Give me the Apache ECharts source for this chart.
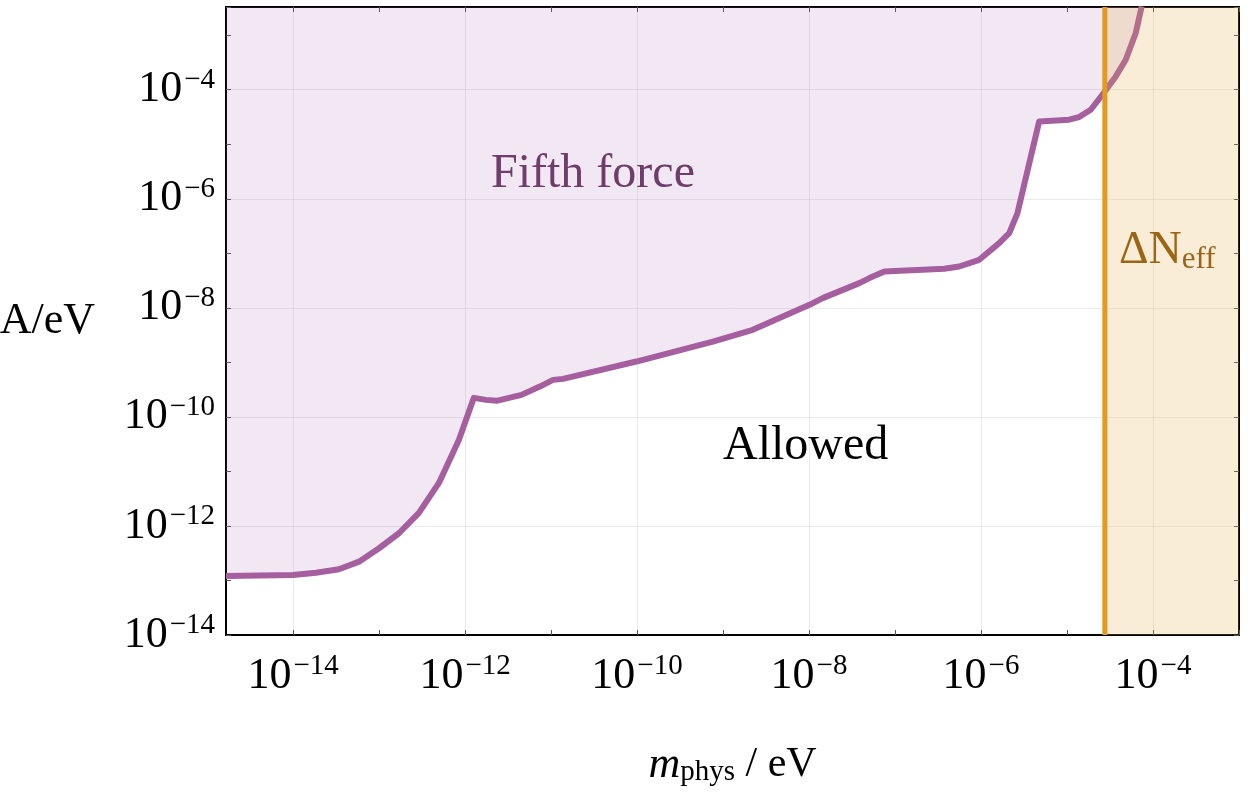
<!DOCTYPE html>
<html>
<head>
<meta charset="utf-8">
<script src="https://cdn.jsdelivr.net/npm/echarts@6/dist/echarts.min.js"></script>
<style>
  html, body { margin: 0; padding: 0; background: #fff; }
  #chart { width: 1250px; height: 794px; }
</style>
</head>
<body>
<div id="chart"></div>
<script>
// exponents: log10(m_phys / eV) and log10(A / eV) along the fifth-force bound
const massExp = [-14.78, -14.0, -13.733, -13.466, -13.233, -13.0, -12.769, -12.537, -12.304, -12.072,
  -11.898, -11.758, -11.634, -11.344, -11.131, -10.977, -10.861, -10.008, -9.118, -8.654,
  -7.995, -7.841, -7.415, -7.298, -7.124, -6.427, -6.253, -6.021, -5.789, -5.672,
  -5.576, -5.324, -4.976, -4.859, -4.724, -4.589, -4.433, -4.317, -4.201, -4.131];
const fifthForceExp = [-12.917, -12.899, -12.857, -12.795, -12.655, -12.409, -12.134, -11.761, -11.211, -10.422,
  -9.651, -9.688, -9.706, -9.596, -9.444, -9.321, -9.303, -8.985, -8.618, -8.404,
  -7.945, -7.822, -7.547, -7.455, -7.334, -7.284, -7.242, -7.119, -6.813, -6.629,
  -6.262, -4.582, -4.550, -4.501, -4.367, -4.092, -3.756, -3.450, -2.960, -2.472];

// Delta N_eff excludes masses above this exponent
const nEffExp = -4.56;

// axis ranges (exponents), labelled decades and minor decade ticks
const xRange = [-14.78, -3.0];
const yRange = [-14, -2.483];
const xTickLabels = [-14, -12, -10, -8, -6, -4];
const yTickLabels = [-14, -12, -10, -8, -6, -4];
const xDecades = [-14, -13, -12, -11, -10, -9, -8, -7, -6, -5, -4, -3];

const FONT = "Liberation Serif";

const fifthForceData = massExp.map((x, i) => [x, fifthForceExp[i]]);

const powLabel = (labels) => (v) => {
  const n = Math.round(v);
  if (Math.abs(v - n) > 1e-6 || labels.indexOf(n) < 0) return "";
  return "{b|10}{s|" + (n < 0 ? "\u2212" + (-n) : n) + "}";
};

const powRich = {
  b: { fontFamily: FONT, fontSize: 44, lineHeight: 48, color: "#000" },
  s: { fontFamily: FONT, fontSize: 29, lineHeight: 29, verticalAlign: "top", color: "#000", padding: [0, 0, 0, 2] },
};

const tickStyle = { show: true, inside: true, length: 5, lineStyle: { color: "#555", width: 1 } };
const gridLine = { show: true, lineStyle: { color: "rgba(0,0,0,0.08)", width: 1 } };

const myChart = echarts.init(document.getElementById("chart"));

const option = {
  animation: false,
  grid: {
    left: 226, right: 11, top: 7, bottom: 159,
    outerBoundsMode: "none",
    show: true, borderColor: "#000", borderWidth: 2, backgroundColor: "transparent",
  },
  xAxis: [
    {
      type: "value", min: xRange[0], max: xRange[1],
      axisLine: { show: false },
      axisTick: { show: false, customValues: xTickLabels },
      splitLine: gridLine,
      axisLabel: { margin: 17, customValues: xTickLabels, formatter: powLabel(xTickLabels), rich: powRich },
      name: "{i|m}{sub|phys}{n| / eV}",
      nameLocation: "middle", nameGap: 108,
      nameTextStyle: {
        rich: {
          i: { fontFamily: FONT, fontStyle: "italic", fontSize: 44, lineHeight: 44, color: "#000" },
          sub: { fontFamily: FONT, fontSize: 29, lineHeight: 18, verticalAlign: "bottom", color: "#000" },
          n: { fontFamily: FONT, fontSize: 42, lineHeight: 44, color: "#000" },
        },
      },
    },
    {
      type: "value", min: xRange[0], max: xRange[1], position: "bottom",
      axisLine: { show: false }, axisTick: Object.assign({ customValues: xDecades }, tickStyle),
      splitLine: { show: false }, axisLabel: { show: false },
    },
    {
      type: "value", min: xRange[0], max: xRange[1], position: "top",
      axisLine: { show: false }, axisTick: Object.assign({ customValues: xDecades }, tickStyle),
      splitLine: { show: false }, axisLabel: { show: false },
    },
  ],
  yAxis: [
    {
      type: "value", min: yRange[0], max: yRange[1], interval: 2,
      axisLine: { show: false }, axisTick: { show: false }, splitLine: gridLine,
      axisLabel: { margin: 11, formatter: powLabel(yTickLabels), rich: powRich },
      name: "A/eV", nameLocation: "middle", nameRotate: 0, nameGap: 131,
      nameTextStyle: { fontFamily: FONT, fontSize: 44, color: "#000" },
    },
    {
      type: "value", min: yRange[0], max: yRange[1], interval: 1, position: "left",
      axisLine: { show: false }, axisTick: tickStyle, splitLine: { show: false }, axisLabel: { show: false },
    },
    {
      type: "value", min: yRange[0], max: yRange[1], interval: 1, position: "right",
      axisLine: { show: false }, axisTick: tickStyle, splitLine: { show: false }, axisLabel: { show: false },
    },
  ],
  series: [
    {
      name: "Fifth force",
      type: "line",
      data: fifthForceData,
      showSymbol: false,
      z: 2,
      lineStyle: { color: "#a55f9f", width: 6, join: "round" },
      areaStyle: { origin: "end", color: "rgba(155,95,170,0.2)" },
    },
    {
      name: "DeltaNeff region",
      type: "line",
      data: [[nEffExp, yRange[1]], [xRange[1], yRange[1]]],
      showSymbol: false,
      z: 3,
      lineStyle: { width: 0 },
      areaStyle: { origin: "start", color: "rgba(232,172,72,0.3)" },
    },
    {
      name: "DeltaNeff bound",
      type: "line",
      data: [[nEffExp, yRange[0]], [nEffExp, yRange[1]]],
      showSymbol: false,
      z: 4,
      lineStyle: { color: "#e29a22", width: 5 },
    },
  ],
  graphic: [
    {
      type: "text", left: 491, top: 150, z: 10,
      style: { text: "Fifth force", fontFamily: FONT, fontSize: 48, fill: "#6e3d6c" },
    },
    {
      type: "text", left: 723, top: 422, z: 10,
      style: { text: "Allowed", fontFamily: FONT, fontSize: 48, fill: "#000" },
    },
    {
      type: "text", left: 1119, top: 228, z: 10,
      style: {
        text: "{d|\u0394N}{e|eff}",
        rich: {
          d: { fontFamily: FONT, fontSize: 46, lineHeight: 48, fill: "#9a6514", color: "#9a6514" },
          e: { fontFamily: FONT, fontSize: 31, lineHeight: 30, verticalAlign: "bottom", fill: "#9a6514", color: "#9a6514" },
        },
      },
    },
  ],
};

myChart.setOption(option);
</script>
</body>
</html>
